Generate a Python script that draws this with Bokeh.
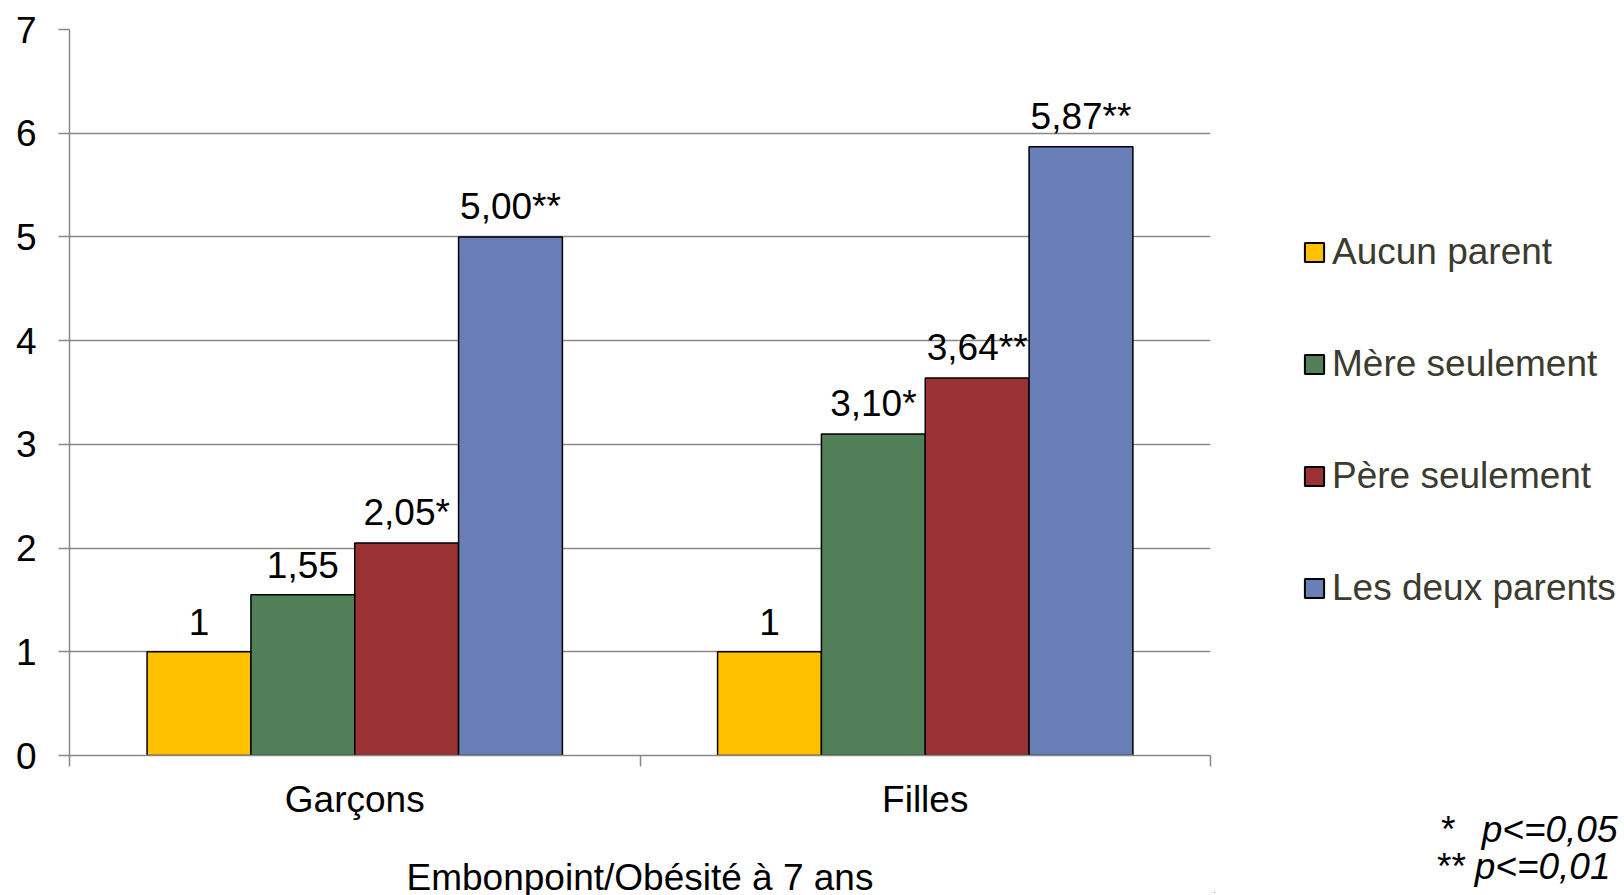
from bokeh.plotting import figure
from bokeh.layouts import row
from bokeh.models import ColumnDataSource, FixedTicker, Legend, LegendItem, Label, Range1d
from bokeh.embed import file_html
from bokeh.resources import INLINE
from bokeh.core.properties import value

# ---- data ----
categories = ["Garçons", "Filles"]
series_names = ["Aucun parent", "Mère seulement", "Père seulement", "Les deux parents"]
series_colors = ["#FFC000", "#517F57", "#9A3234", "#697EB7"]
aucun_parent = [1.00, 1.00]
mere_seulement = [1.55, 3.10]
pere_seulement = [2.05, 3.64]
deux_parents = [5.00, 5.87]
aucun_labels = ["1", "1"]
mere_labels = ["1,55", "3,10*"]
pere_labels = ["2,05*", "3,64**"]
deux_labels = ["5,00**", "5,87**"]
y_ticks = [0, 1, 2, 3, 4, 5, 6, 7]
x_title = "Embonpoint/Obésité à 7 ans"
note_marks = ["*", "**"]
note_texts = ["p<=0,05", "p<=0,01"]

series_values = [aucun_parent, mere_seulement, pere_seulement, deux_parents]
series_labels = [aucun_labels, mere_labels, pere_labels, deux_labels]

FONT = "Liberation Sans"
FS = "37px"
GRID = "#888888"
H = 893

p = figure(frame_width=1141, frame_height=726,
           min_border_left=69, min_border_top=29, min_border_right=4,
           min_border_bottom=H - 29 - 726,
           x_range=Range1d(0, len(categories)), y_range=Range1d(0, 7),
           output_backend="svg", toolbar_location=None)
p.outline_line_color = None
p.xgrid.grid_line_color = None
p.ygrid.grid_line_color = GRID
p.ygrid.grid_line_width = 1.5
p.ygrid.ticker = FixedTicker(ticks=y_ticks)

# y axis
p.yaxis.ticker = FixedTicker(ticks=y_ticks)
p.yaxis.axis_line_color = GRID
p.yaxis.axis_line_width = 1.5
p.yaxis.major_tick_line_color = GRID
p.yaxis.major_tick_line_width = 1.5
p.yaxis.major_tick_in = 0
p.yaxis.major_tick_out = 11
p.yaxis.minor_tick_line_color = None
p.yaxis.major_label_text_font = FONT
p.yaxis.major_label_text_font_size = FS
p.yaxis.major_label_text_color = "black"
p.yaxis.major_label_standoff = 22

# x axis: labels at category centres, ticks at category boundaries
centers = [i + 0.5 for i in range(len(categories))]
bounds = [float(i) for i in range(len(categories) + 1)]
p.xaxis.ticker = FixedTicker(ticks=centers, minor_ticks=bounds)
p.xaxis.major_label_overrides = {c: n for c, n in zip(centers, categories)}
p.xaxis.axis_line_color = GRID
p.xaxis.axis_line_width = 1.5
p.xaxis.major_tick_line_color = None
p.xaxis.minor_tick_line_color = GRID
p.xaxis.minor_tick_line_width = 1.5
p.xaxis.minor_tick_in = 0
p.xaxis.minor_tick_out = 11
p.xaxis.major_label_text_font = FONT
p.xaxis.major_label_text_font_size = FS
p.xaxis.major_label_text_color = "black"
p.xaxis.major_label_standoff = 12
p.xaxis.axis_label = x_title
p.xaxis.axis_label_text_font = FONT
p.xaxis.axis_label_text_font_size = FS
p.xaxis.axis_label_text_font_style = "normal"
p.xaxis.axis_label_text_color = "black"
p.xaxis.axis_label_standoff = 34

bar_w = 0.182
n = len(series_names)

# side panel for legend and footnotes (pixel coordinates)
p2 = figure(width=406, height=H, x_range=Range1d(0, 406), y_range=Range1d(0, H),
            x_axis_location=None, y_axis_location=None, min_border=0,
            output_backend="svg", toolbar_location=None)
p2.frame_align = False
p2.outline_line_color = None
p2.xgrid.grid_line_color = None
p2.ygrid.grid_line_color = None

items = []
for k, (name, col, vals, labs) in enumerate(zip(series_names, series_colors, series_values, series_labels)):
    xs = [c + (k - (n - 1) / 2) * bar_w for c in centers]
    src = ColumnDataSource(dict(x=xs, top=vals, lab=labs))
    p.vbar(x="x", top="top", width=bar_w, bottom=0, source=src,
           fill_color=col, line_color="black", line_width=1.5)
    p.text(x="x", y="top", text="lab", source=src, text_align="center",
           text_baseline="alphabetic", y_offset=-30, text_font=value(FONT),
           text_font_size=FS, text_color="black")
    # legend proxy renderer, kept outside the visible side panel
    r2 = p2.vbar(x=[-50], top=[0], width=1, fill_color=col, line_color="black", line_width=2)
    items.append(LegendItem(label=name, renderers=[r2]))

legend = Legend(items=items, location=(88, 284), orientation="vertical",
                glyph_width=24, glyph_height=24, label_standoff=6, spacing=70,
                padding=0, margin=0, border_line_alpha=0, background_fill_alpha=0,
                label_text_font=FONT, label_text_font_size=FS, label_text_color="#3b3b30",
                label_height=24)
p2.add_layout(legend)

mark_x = [225, 221]
text_x = [403, 396]
ys = [H - 829, H - 866]
for mk, tx, mx, txx, yy in zip(note_marks, note_texts, mark_x, text_x, ys):
    p2.add_layout(Label(x=mx, y=yy, x_units="screen", y_units="screen", text=mk,
                        text_align="left", text_baseline="middle", text_font=FONT,
                        text_font_size=FS, text_color="black", text_font_style="italic"))
    p2.add_layout(Label(x=txx, y=yy, x_units="screen", y_units="screen", text=tx,
                        text_align="right", text_baseline="middle", text_font=FONT,
                        text_font_size=FS, text_color="black", text_font_style="italic"))

layout = row(p, p2)
open("out.html", "w").write(file_html(layout, INLINE))
